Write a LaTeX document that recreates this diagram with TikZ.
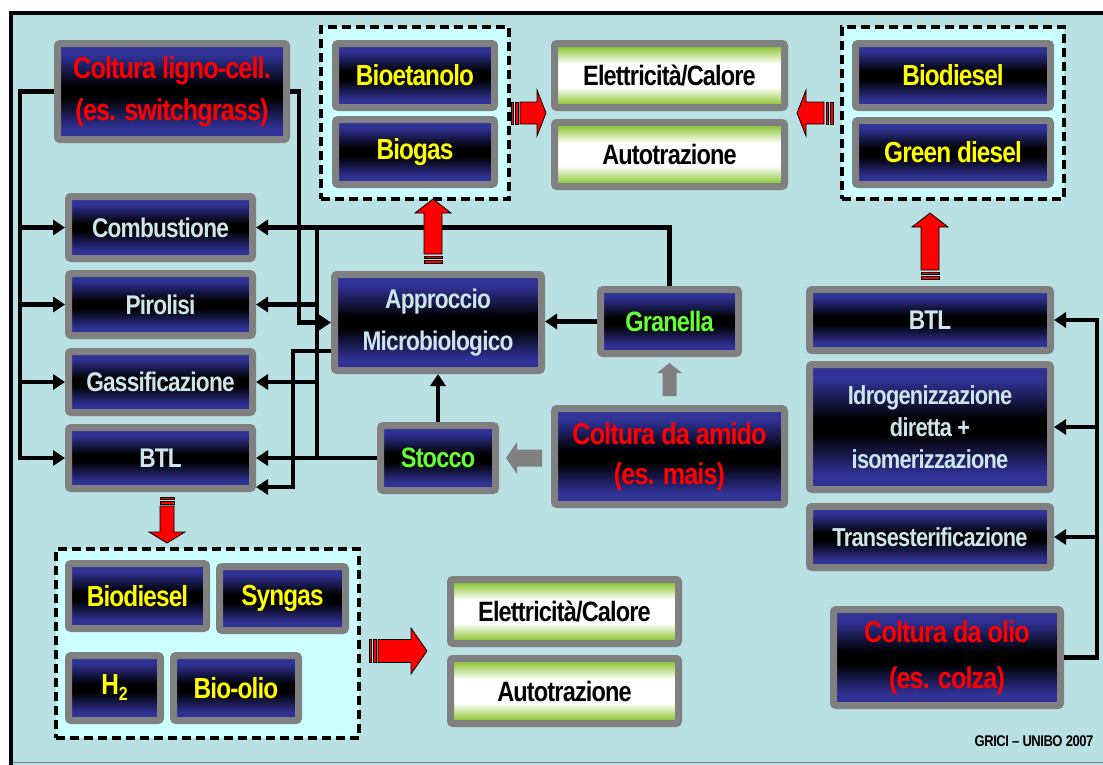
\documentclass[tikz,border=0pt]{standalone}
\usepackage{fontspec}
\setmainfont{Liberation Sans}[FakeStretch=0.84,LetterSpace=-3]
\usetikzlibrary{arrows.meta,calc}

\definecolor{bg}{RGB}{185,224,227}
\definecolor{navy}{RGB}{48,50,150}
\definecolor{frameg}{RGB}{128,128,128}
\definecolor{lgreen}{RGB}{146,200,60}
\definecolor{lcyan}{RGB}{204,255,255}
\definecolor{wtxt}{RGB}{205,230,236}
\definecolor{ytxt}{RGB}{255,255,0}
\definecolor{gtxt}{RGB}{102,255,51}
\definecolor{rtxt}{RGB}{255,0,0}
\definecolor{arrred}{RGB}{255,0,0}

\pgfdeclareverticalshading{navyband}{100bp}{color(0bp)=(navy); color(25bp)=(navy); color(31bp)=(navy); color(47bp)=(black); color(53bp)=(black); color(69bp)=(navy); color(75bp)=(navy); color(100bp)=(navy)}
\pgfdeclareverticalshading{greenband}{100bp}{color(0bp)=(lgreen); color(25bp)=(lgreen); color(28bp)=(lgreen); color(41bp)=(white); color(59bp)=(white); color(72bp)=(lgreen); color(75bp)=(lgreen); color(100bp)=(lgreen)}

\tikzset{
  box/.style={draw=frameg, line width=7pt, rounded corners=2.5pt, inner sep=0pt, align=center},
  navybox/.style={box, shade, shading=navyband},
  wt/.style={navybox, text=wtxt, font=\bfseries\fontsize{27}{42}\selectfont},
  wts/.style={navybox, text=wtxt, font=\bfseries\fontsize{26}{32}\selectfont},
  rt/.style={navybox, text=rtxt, font=\bfseries\fontsize{30}{42}\selectfont},
  yt/.style={navybox, text=ytxt, font=\bfseries\fontsize{29}{36}\selectfont},
  gt/.style={navybox, text=gtxt, font=\bfseries\fontsize{28}{34}\selectfont},
  bt/.style={box, shade, shading=greenband, text=black, font=\bfseries\fontsize{28}{34}\selectfont},
  grp/.style={draw=black, fill=lcyan, line width=3.5pt, dash pattern=on 9pt off 5pt, inner sep=0pt},
  conn/.style={draw=black, line width=4.5pt},
  arr/.style={conn, -{Triangle[length=12pt,width=15pt]}},
}

% red striped block arrow: tail point, angle, length, shaft half, head half, head length
\newcommand\redarr[6]{%
  \begin{scope}[shift={(#1)}, rotate=#2]
    \filldraw[fill=arrred, draw=black, line width=0.8pt] (0,-#4) rectangle (2.5,#4);
    \filldraw[fill=arrred, draw=black, line width=0.8pt] (4.5,-#4) rectangle (7,#4);
    \filldraw[fill=arrred, draw=black, line width=0.8pt, line join=miter]
      (9,-#4) -- ({#3-#6},-#4) -- ({#3-#6},-#5) -- (#3,0) -- ({#3-#6},#5) -- ({#3-#6},#4) -- (9,#4) -- cycle;
  \end{scope}}
% gray block arrow
\newcommand\grayarr[6]{%
  \begin{scope}[shift={(#1)}, rotate=#2]
    \fill[frameg] (0,-#4) -- ({#3-#6},-#4) -- ({#3-#6},-#5) -- (#3,0) -- ({#3-#6},#5) -- ({#3-#6},#4) -- (0,#4) -- cycle;
  \end{scope}}

\begin{document}
\begin{tikzpicture}[x=1pt,y=-1pt]
\useasboundingbox (0,0) rectangle (1103,764);
\clip (0,0) rectangle (1103,764);
\fill[white] (0,0) rectangle (1103,764);
\draw[line width=4pt, fill=bg] (10.5,13) rectangle (1130,790);
\draw[frameg, line width=1pt] (12.5,762.5) -- (1103,762.5);

% dashed groups
\node[grp, minimum width=188, minimum height=172] (g1) at (415,113) {};
\node[grp, minimum width=222, minimum height=172] (g2) at (953,113) {};
\node[grp, minimum width=303, minimum height=189] (g3) at (207.5,643.5) {};

% boxes
\node[rt, minimum width=229, minimum height=96] (lig) at (172,91.5) {Coltura ligno-cell.\\(es. switchgrass)};
\node[yt, minimum width=159, minimum height=64] (bioet) at (415,75.5) {Bioetanolo};
\node[yt, minimum width=159, minimum height=65] (biogas) at (415,152) {Biogas};
\node[bt, minimum width=230, minimum height=64] (elc1) at (669.5,75.5) {Elettricità/Calore};
\node[bt, minimum width=230, minimum height=64] (aut1) at (669.5,154.5) {Autotrazione};
\node[yt, minimum width=195, minimum height=64] (biod1) at (953,75.5) {Biodiesel};
\node[yt, minimum width=195, minimum height=64] (gd) at (953,152.5) {Green diesel};

\node[wt, minimum width=184, minimum height=62] (comb) at (160.5,227.5) {Combustione};
\node[wt, minimum width=184, minimum height=62] (pir) at (160.5,304.5) {Pirolisi};
\node[wt, minimum width=184, minimum height=61] (gas) at (160.5,382) {Gassificazione};
\node[wt, minimum width=184, minimum height=61] (btlL) at (160.5,458) {BTL};

\node[wt, minimum width=207, minimum height=96] (app) at (438,322.5) {Approccio\\Microbiologico};
\node[gt, minimum width=138, minimum height=64] (gra) at (669.5,321.5) {Granella};
\node[gt, minimum width=115, minimum height=65] (sto) at (438,458) {Stocco};
\node[rt, minimum width=230, minimum height=96, font=\bfseries\fontsize{30}{40}\selectfont] (amido) at (669.5,456.5) {Coltura da amido\\(es. mais)};

\node[wt, minimum width=241, minimum height=61] (btlR) at (930,320) {BTL};
\node[wts, minimum width=241, minimum height=125] (idr) at (930,427) {Idrogenizzazione\\diretta +\\isomerizzazione};
\node[wts, minimum width=241, minimum height=61] (trans) at (930,537) {Transesterificazione};
\node[rt, minimum width=227, minimum height=96, font=\bfseries\fontsize{30}{46}\selectfont] (oil) at (947,657.5) {Coltura da olio\\(es. colza)};

\node[yt, minimum width=138, minimum height=65] (biod2) at (137.5,596) {Biodiesel};
\node[yt, minimum width=126, minimum height=64] (syn) at (282.5,598.5) {Syngas};
\node[yt, minimum width=92, minimum height=65] (h2) at (114.5,688) {H\raisebox{-6pt}{\fontsize{19}{19}\selectfont 2}};
\node[yt, minimum width=125, minimum height=65] (bioolio) at (236,688) {Bio-olio};
\node[bt, minimum width=228, minimum height=64] (elc2) at (564.5,611.5) {Elettricità/Calore};
\node[bt, minimum width=228, minimum height=65] (aut2) at (564.5,691) {Autotrazione};

\node[font=\bfseries\fontsize{15.5}{16}\selectfont, text=black, inner sep=0pt] (cred) at (1034,741) {GRICI – UNIBO 2007};

% helper coordinates
\coordinate (xl) at (20,0);
\coordinate (xa) at (299,0);
\coordinate (xm) at (317,0);
\coordinate (xb) at (293,0);
\coordinate (xr) at (1097,0);
\coordinate (ylow) at (0,487);
\coordinate (appw2) at ($(app.south west)+(0,-23)$);

% connectors
\draw[arr] (lig.west) -| (xl |- btlL.west) -- (btlL.west);
\draw[arr] (xl |- comb.west) -- (comb.west);
\draw[arr] (xl |- pir.west) -- (pir.west);
\draw[arr] (xl |- gas.west) -- (gas.west);
\draw[arr] (lig.east) -| (xa |- app.west) -- (app.west);
\draw[arr] (gra.north) |- (comb.east);
\draw[conn] (xm |- comb.east) -- (xm |- sto.west);
\draw[arr] (sto.west) -- (btlL.east);
\draw[arr] (xm |- pir.east) -- (pir.east);
\draw[arr] (xm |- gas.east) -- (gas.east);
\draw[arr] (appw2) -| (xb |- ylow) -- (btlL.east |- ylow);
\draw[arr] (gra.west) -- (gra.west -| app.east);
\draw[arr] (sto.north) -- (app.south);
\draw[arr] (oil.east) -| (xr |- btlR.east) -- (btlR.east);
\draw[arr] (xr |- idr.east) -- (idr.east);
\draw[arr] (xr |- trans.east) -- (trans.east);

% block arrows
\redarr{511,113}{0}{35}{11}{23}{9}
\redarr{833,113}{180}{36}{11}{23}{9}
\redarr{433,263}{90}{64}{9}{18}{14}
\redarr{930,279}{90}{66}{9}{18}{14}
\redarr{167,497}{-90}{46}{7}{18}{11}
\redarr{369,651}{0}{58}{11.5}{23}{16}
\grayarr{542,458}{180}{36}{8.5}{16}{11}
\grayarr{669.5,396}{90}{33}{7}{12.5}{10}
\end{tikzpicture}
\end{document}
